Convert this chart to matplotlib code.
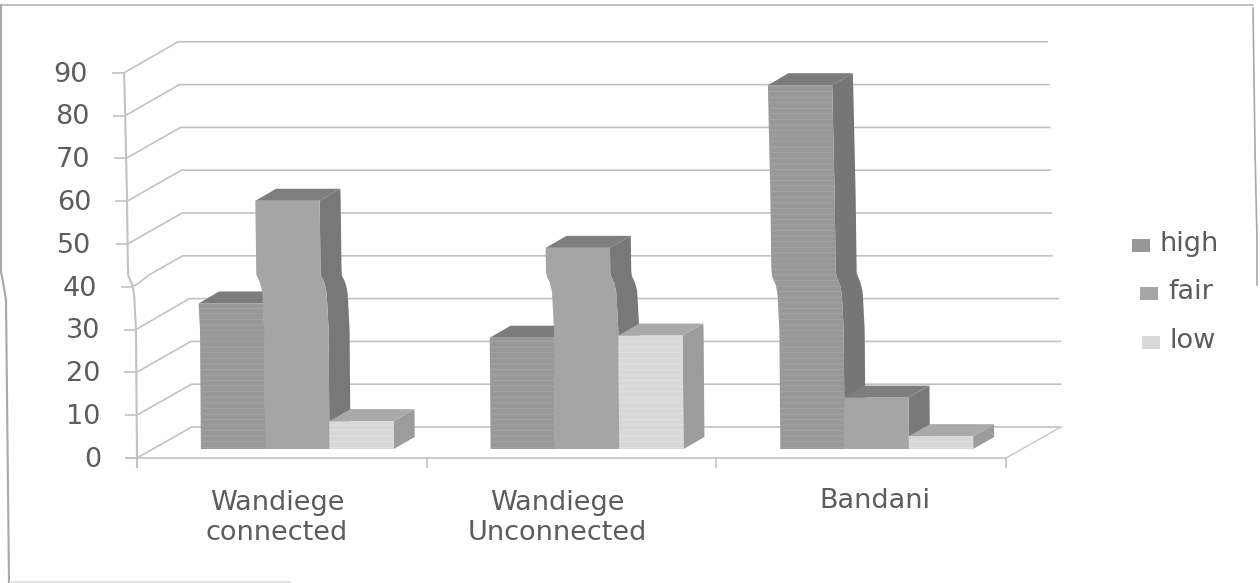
import numpy as np
import matplotlib
matplotlib.use('Agg')
import matplotlib.pyplot as plt
from matplotlib.lines import Line2D
from matplotlib.transforms import Affine2D

categories = ['Wandiege\nconnected', 'Wandiege\nUnconnected', 'Bandani']
series_names = ['high', 'fair', 'low']
high = [34, 26, 85]
fair = [58, 47, 12]
low = [6.5, 26.5, 3]
y_ticks = list(range(0, 100, 10))

W, H = 1260, 583
# pixel scale of the plot: origin corner and size of one unit
X0, Y0 = 137, 458
PX_X, PX_Y = 289.7, 4.28

# depth of the wall and of the bars, in axis units
WALL_DX, WALL_DY = 55 / PX_X, 31 / PX_Y
BAR_DX, BAR_DY = 21 / PX_X, 12 / PX_Y
BAR_BASE = (Y0 - 449) / PX_Y
BAR_W = 64.3 / PX_X
BAR_START = 64 / PX_X
WALL_RIGHT = (1062 - X0 - 55) / PX_X

GRID = '#c2c2c2'
TXT = '#5c5c5c'

face_colors = ['#989898', '#a5a5a5', '#d8d8d8']
side_colors = ['#767676', '#787878', '#9c9c9c']
top_colors = ['#7c7c7c', '#7e7e7e', '#a9a9a9']
hatch_colors = ['#a6a6a6', None, '#e2e2e2']

# the scanned page is creased, upper part of the sheet sits further left
crease_y = [43, 85, 198, 275, 283, 292, 330, 458]
crease_dx = [-14, -12.5, -10, -9, -5, -3, -1, 0]


def creased(x, y):
    py = Y0 - PX_Y * np.asarray(y, dtype=float)
    return np.asarray(x, dtype=float) + np.interp(py, crease_y, crease_dx) / PX_X


def densify(xs, ys, n=40):
    # split the edges so the crease shows on long vertical sides
    out_x, out_y = [], []
    for i in range(len(xs)):
        j = (i + 1) % len(xs)
        out_x.extend(np.linspace(xs[i], xs[j], n, endpoint=False))
        out_y.extend(np.linspace(ys[i], ys[j], n, endpoint=False))
    return np.array(out_x), np.array(out_y)


def draw_face(ax, xs, ys, color, hatch_color=None, z=3):
    dx, dy = densify(xs, ys)
    poly = ax.fill(creased(dx, dy), dy, facecolor=color, edgecolor='none', zorder=z)[0]
    if hatch_color:
        poly.set_hatch('---')
        poly.set_edgecolor(hatch_color)
        poly.set_linewidth(0)


def draw_line(ax, xs, ys, color=GRID, lw=1.2, z=1):
    dx, dy = [], []
    for i in range(len(xs) - 1):
        dx.extend(np.linspace(xs[i], xs[i + 1], 40))
        dy.extend(np.linspace(ys[i], ys[i + 1], 40))
    ax.plot(creased(dx, dy), dy, color=color, lw=lw, zorder=z, solid_capstyle='butt')


plt.rcParams['hatch.linewidth'] = 0.6
fig = plt.figure(figsize=(W / 100, H / 100), dpi=100, facecolor='white')
ax = fig.add_axes([0, 0, 1, 1])
ax.set_xlim(-X0 / PX_X, (W - X0) / PX_X)
ax.set_ylim((Y0 - H) / PX_Y, Y0 / PX_Y)
ax.axis('off')

# transform for things placed by pixel position on the sheet
sheet = Affine2D().scale(1 / W, -1 / H).translate(0, 1) + fig.transFigure

# wall gridlines and value axis
for v in y_ticks:
    draw_line(ax, [0, WALL_DX, WALL_RIGHT + WALL_DX], [v, v + WALL_DY, v + WALL_DY])
    draw_line(ax, [-12 / PX_X, 0], [v, v])
    ax.text(creased(-36 / PX_X, v), v - 0.4, str(v), ha='right', va='center',
            fontsize=19.5, color=TXT, zorder=5)
draw_line(ax, [0, 0], [-10 / PX_Y, 90], lw=1.5)

# floor edge and category ticks
draw_line(ax, [-12 / PX_X, 3], [0, 0], lw=1.2)
draw_line(ax, [3, 3 + WALL_DX], [0, WALL_DY], lw=0.9)
for i in range(1, 4):
    draw_line(ax, [i, i], [0, -10 / PX_Y], lw=1.2)

# bars, left to right so each front covers the side of the previous one
for g in range(len(categories)):
    for s, values in enumerate([high, fair, low]):
        v = values[g] + BAR_BASE
        x0 = g + BAR_START + s * BAR_W
        x1 = x0 + BAR_W
        z = 3 + g + s * 0.1
        draw_face(ax, [x1, x1 + BAR_DX, x1 + BAR_DX, x1],
                  [BAR_BASE, BAR_BASE + BAR_DY, v + BAR_DY, v], side_colors[s], z=z)
        draw_face(ax, [x0, x1, x1 + BAR_DX, x0 + BAR_DX],
                  [v, v, v + BAR_DY, v + BAR_DY], top_colors[s], z=z)
        draw_face(ax, [x0, x1, x1, x0], [BAR_BASE, BAR_BASE, v, v],
                  face_colors[s], hatch_colors[s], z=z)

# category labels
label_pos = [(277, 518), (557, 518), (875, 501)]
for name, (px, py) in zip(categories, label_pos):
    ax.text(px, py, name, transform=sheet, ha='center', va='center', fontsize=19.5,
            color=TXT, linespacing=1.2)

# legend
legend_pos = [(1132, 245), (1140, 293), (1142, 342)]
for name, color, (px, py) in zip(series_names, face_colors, legend_pos):
    ax.fill([px, px + 18, px + 18, px], [py - 6.5, py - 6.5, py + 6.5, py + 6.5],
            color=color, transform=sheet, lw=0)
    ax.text(px + 28, py - 1, name, transform=sheet, ha='left', va='center',
            fontsize=19.5, color=TXT)

# sheet border, broken along the crease
border = [
    ([2, 1253], [5, 5], '#b5b5b5', 1.2),
    ([1, 1, 3, 6, 9], [5, 272, 282, 300, 583], '#a8a8a8', 1.5),
    ([1253, 1255, 1257, 1257], [8, 150, 240, 285], '#a8a8a8', 1.2),
    ([10, 290], [582, 582], '#dddddd', 1.2),
]
for xs, ys, color, lw in border:
    fig.add_artist(Line2D(xs, ys, color=color, lw=lw, transform=sheet))

fig.savefig('out.png', dpi=100)
